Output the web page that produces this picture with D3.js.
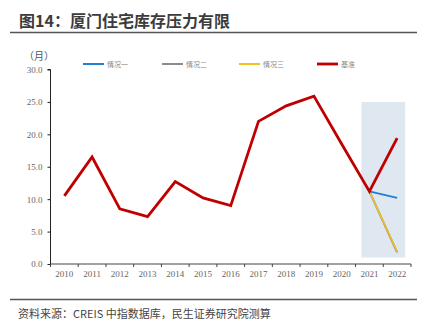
<!DOCTYPE html>
<html><head><meta charset="utf-8">
<script src="https://cdn.jsdelivr.net/npm/d3@7"></script>
<style>body{margin:0;background:#fff}svg{display:block}</style>
</head><body>
<svg id="c" width="432" height="331"></svg>
<script>
const years = ["2010","2011","2012","2013","2014","2015","2016","2017","2018","2019","2020","2021","2022"];
const baseline = [10.5,16.5,8.5,7.3,12.7,10.2,9.0,22.0,24.4,25.9,18.5,11.2,19.4];
const scen1 = [["2021",11.2],["2022",10.2]];
const scen2 = [["2021",11.2],["2022",1.8]];
const scen3 = [["2021",11.2],["2022",1.9]];
const yTicks = [0,5,10,15,20,25,30];
const shadeRange = [1,25];
const legendNames = ["情况一","情况二","情况三","基准"];
const colors = ["#1f7fd1","#8c8c8c","#f2c01e","#c00000"];

const svg = d3.select("#c");
const x = d3.scaleBand().domain(years).range([50.5,411]);
const y = d3.scaleLinear().domain([0,30]).range([264,69.5]);

// title and rules
svg.append("text").attr("x",19).attr("y",27).attr("font-family","Noto Sans CJK SC")
  .attr("font-weight","bold").attr("font-size",16).attr("fill","#3c3c3c").text("图14：厦门住宅库存压力有限");
svg.append("line").attr("x1",10).attr("x2",417).attr("y1",32.5).attr("y2",32.5).attr("stroke","#555").attr("stroke-width",1.3);
svg.append("line").attr("x1",10).attr("x2",417).attr("y1",299.5).attr("y2",299.5).attr("stroke","#555").attr("stroke-width",1.3);
svg.append("text").attr("x",18).attr("y",318).attr("font-family","Noto Sans CJK SC")
  .attr("font-size",11).attr("fill","#444").text("资料来源：CREIS 中指数据库，民生证券研究院测算");

// forecast shading
svg.append("rect").attr("x",x("2021")+x.bandwidth()/2-8).attr("width",x("2022")-x("2021")+16)
  .attr("y",y(shadeRange[1])).attr("height",y(shadeRange[0])-y(shadeRange[1])).attr("fill","#dfe8f1");

// axes
const ya = svg.append("g").attr("transform","translate(50.5,0)")
  .call(d3.axisLeft(y).tickValues(yTicks).tickFormat(d3.format(".1f")).tickSize(3));
ya.select(".domain").attr("stroke","#222").attr("d","M-3,"+y(30)+"H0V"+y(0));
ya.selectAll("text").attr("font-family","Liberation Serif").attr("font-size",9).attr("fill","#666").attr("x",-8);
ya.selectAll("line").attr("stroke","#222");

const xa = svg.append("g").attr("transform","translate(0,"+y(0)+")")
  .call(d3.axisBottom(x).tickSize(0));
xa.select(".domain").attr("stroke","#444").attr("d","M50.5,0H411");
xa.selectAll("text").attr("font-family","Liberation Serif").attr("font-size",9).attr("fill","#666").attr("dy","1.1em");
xa.selectAll(".sep").data(years.concat(["end"])).enter().append("line").attr("class","sep")
  .attr("x1",(d,i)=>x.range()[0]+i*x.step()).attr("x2",(d,i)=>x.range()[0]+i*x.step())
  .attr("y1",0).attr("y2",3).attr("stroke","#444");

svg.append("text").attr("x",24).attr("y",60).attr("font-family","Noto Sans CJK SC")
  .attr("font-size",10).attr("fill","#555").text("（月）");

// lines
const cx = d => x(d)+x.bandwidth()/2;
const line = d3.line().x(d=>cx(d[0])).y(d=>y(d[1]));
svg.append("path").datum(scen2).attr("d",line).attr("fill","none").attr("stroke",colors[1]).attr("stroke-width",2);
svg.append("path").datum(scen3).attr("d",line).attr("fill","none").attr("stroke",colors[2]).attr("stroke-width",1.5);
svg.append("path").datum(scen1).attr("d",line).attr("fill","none").attr("stroke",colors[0]).attr("stroke-width",2);
svg.append("path").datum(years.map((yr,i)=>[yr,baseline[i]])).attr("d",line)
  .attr("fill","none").attr("stroke",colors[3]).attr("stroke-width",2.8).attr("stroke-linejoin","miter");

// legend
const lx = [83,162,239,317];
legendNames.forEach((n,i)=>{
  svg.append("line").attr("x1",lx[i]).attr("x2",lx[i]+21).attr("y1",64).attr("y2",64)
    .attr("stroke",colors[i]).attr("stroke-width",i===3?2.8:2);
  svg.append("text").attr("x",lx[i]+24).attr("y",66.5).attr("font-family","Noto Sans CJK SC")
    .attr("font-size",7).attr("fill","#888").text(n);
});
</script>
</body></html>
